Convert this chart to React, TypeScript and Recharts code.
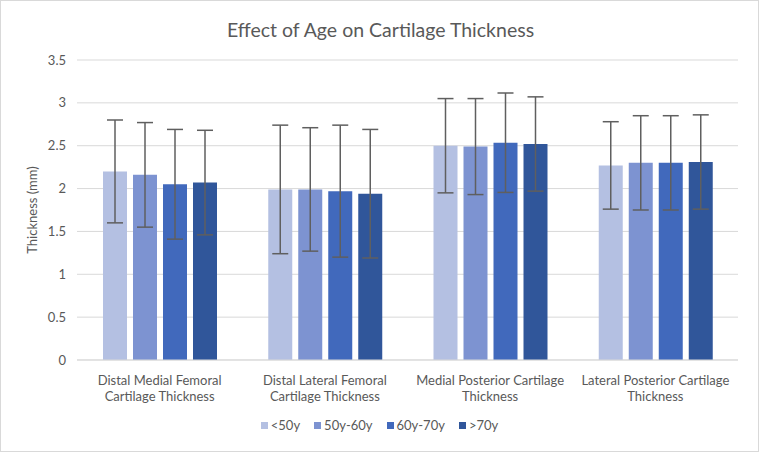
import { BarChart, Bar, XAxis, YAxis, CartesianGrid, Legend, ErrorBar, Label } from 'recharts'

const categories = [
  'Distal Medial Femoral\nCartilage Thickness',
  'Distal Lateral Femoral\nCartilage Thickness',
  'Medial Posterior Cartilage\nThickness',
  'Lateral Posterior Cartilage\nThickness',
]
const seriesNames = ['<50y', '50y-60y', '60y-70y', '>70y']
const under50 = [2.2, 1.99, 2.5, 2.27]
const from50to60 = [2.16, 1.99, 2.49, 2.3]
const from60to70 = [2.05, 1.97, 2.535, 2.3]
const over70 = [2.07, 1.94, 2.52, 2.31]
// standard deviations read from the whiskers
const under50Err = [0.6, 0.75, 0.55, 0.51]
const from50to60Err = [0.61, 0.72, 0.56, 0.55]
const from60to70Err = [0.64, 0.77, 0.58, 0.55]
const over70Err = [0.61, 0.75, 0.55, 0.55]
const yTicks = [0, 0.5, 1, 1.5, 2, 2.5, 3, 3.5]

const COLORS = ['#B4C0E2', '#7D93D1', '#4169BC', '#30569A']
const FONT = 'Lato, "Open Sans", sans-serif'
const TEXT = '#595959'

const values = [under50, from50to60, from60to70, over70]
const errors = [under50Err, from50to60Err, from60to70Err, over70Err]

const data = categories.map((name, i) => {
  const row: Record<string, string | number> = { name }
  values.forEach((s, k) => {
    row[`s${k}`] = s[i]
    row[`e${k}`] = errors[k][i]
  })
  return row
})

function CategoryTick(props: { x?: number; y?: number; payload?: { value: string } }) {
  const { x = 0, y = 0, payload } = props
  const lines = (payload?.value ?? '').split('\n')
  return (
    <text x={x} y={y} textAnchor="middle" fill={TEXT} fontSize={13} fontFamily={FONT}>
      {lines.map((l, i) => (
        <tspan key={i} x={x} dy={i === 0 ? 17 : 15.5}>
          {l}
        </tspan>
      ))}
    </text>
  )
}

function LegendContent() {
  return (
    <div style={{ display: 'flex', justifyContent: 'center', gap: 14, fontFamily: FONT, fontSize: 13, color: TEXT }}>
      {seriesNames.map((n, i) => (
        <div key={n} style={{ display: 'flex', alignItems: 'center', gap: 3 }}>
          <span style={{ width: 7, height: 7, background: COLORS[i], display: 'inline-block' }} />
          <span>{n}</span>
        </div>
      ))}
    </div>
  )
}

export default function App() {
  return (
    <div
      style={{
        position: 'absolute',
        left: 0,
        top: 0,
        width: 759,
        height: 452,
        border: '1px solid #d9d9d9',
        boxSizing: 'border-box',
        background: '#fff',
      }}
    >
      <div
        style={{
          position: 'absolute',
          top: 17,
          left: 0,
          width: 759,
          textAlign: 'center',
          fontFamily: FONT,
          fontSize: 19.5,
          color: TEXT,
        }}
      >
        Effect of Age on Cartilage Thickness
      </div>
      <div style={{ position: 'absolute', left: -1, top: -1 }}>
        <BarChart
          width={759}
          height={452}
          data={data}
          margin={{ top: 60, right: 21, bottom: 62, left: 17 }}
          barSize={24}
          barGap={6}
        >
          <CartesianGrid vertical={false} stroke="#d9d9d9" />
          <XAxis
            dataKey="name"
            height={30}
            interval={0}
            tickLine={false}
            axisLine={{ stroke: '#d9d9d9' }}
            tick={<CategoryTick />}
          />
          <YAxis
            width={60}
            domain={[0, 3.5]}
            ticks={yTicks}
            axisLine={false}
            tickLine={false}
            tickMargin={5}
            tick={{ fill: TEXT, fontSize: 13, fontFamily: FONT }}
          >
            <Label
              content={() => (
                <text
                  x={37}
                  y={210}
                  transform="rotate(-90 37 210)"
                  textAnchor="middle"
                  fill={TEXT}
                  fontSize={13}
                  fontFamily={FONT}
                >
                  Thickness (mm)
                </text>
              )}
            />
          </YAxis>
          <Legend
            verticalAlign="middle"
            align="center"
            wrapperStyle={{ top: 417, left: 0, width: 759 }}
            content={<LegendContent />}
          />
          {seriesNames.map((n, k) => (
            <Bar key={n} dataKey={`s${k}`} name={n} fill={COLORS[k]} isAnimationActive={false}>
              <ErrorBar dataKey={`e${k}`} width={8} stroke="#5f5f5f" strokeWidth={1.5} />
            </Bar>
          ))}
        </BarChart>
      </div>
    </div>
  )
}
